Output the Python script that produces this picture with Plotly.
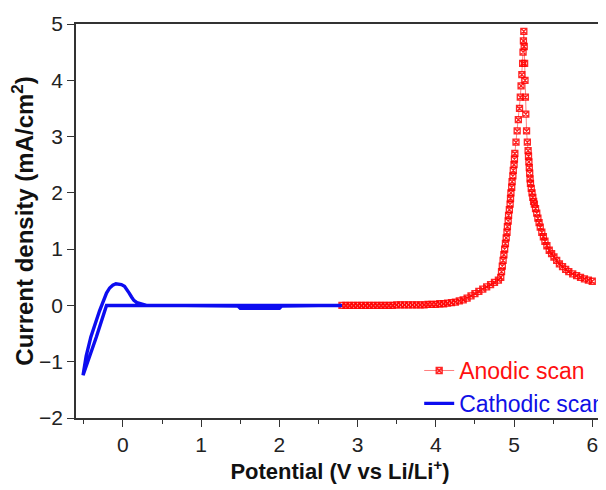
import plotly.graph_objects as go

# Anodic scan (red)
anodic_v = [2.80, 2.85, 2.90, 2.95, 3.00, 3.05, 3.10, 3.15, 3.20, 3.25, 3.30, 3.35, 3.40, 3.45,
            3.50, 3.55, 3.60, 3.65, 3.70, 3.75, 3.80, 3.85, 3.90, 3.95, 4.00, 4.05, 4.10, 4.15,
            4.20, 4.25, 4.30, 4.35, 4.40, 4.45, 4.50, 4.55, 4.60, 4.65, 4.70, 4.75, 4.80,
            4.83, 4.84, 4.85, 4.86, 4.87, 4.88, 4.89, 4.90, 4.91, 4.915, 4.925, 4.93, 4.94, 4.95,
            4.955, 4.96, 4.97, 4.975, 4.985, 4.99, 5.00, 5.005, 5.01,
            5.025, 5.04, 5.055, 5.07, 5.08, 5.09, 5.10, 5.11, 5.115, 5.12, 5.125,
            5.13, 5.135, 5.14, 5.145, 5.15, 5.16, 5.17, 5.18, 5.185, 5.19, 5.195, 5.20, 5.205,
            5.21, 5.22, 5.23, 5.24, 5.25, 5.26, 5.275, 5.29, 5.305, 5.32, 5.335, 5.355, 5.375,
            5.395, 5.42, 5.45, 5.48, 5.51, 5.545, 5.58, 5.62, 5.66, 5.70, 5.75, 5.80, 5.85,
            5.90, 5.95, 6.00]
anodic_i = [0.00, 0.00, 0.00, 0.00, 0.00, 0.00, 0.00, 0.00, 0.00, 0.00, 0.00, 0.00, 0.00, 0.00,
            0.01, 0.01, 0.01, 0.01, 0.01, 0.01, 0.01, 0.01, 0.02, 0.02, 0.02, 0.03, 0.03, 0.04,
            0.05, 0.06, 0.08, 0.10, 0.13, 0.17, 0.21, 0.25, 0.29, 0.33, 0.37, 0.41, 0.45,
            0.50, 0.60, 0.70, 0.80, 0.90, 1.00, 1.10, 1.20, 1.30, 1.40, 1.50, 1.60, 1.70, 1.80,
            1.90, 2.00, 2.10, 2.20, 2.30, 2.40, 2.50, 2.60, 2.70,
            2.90, 3.10, 3.30, 3.50, 3.70, 3.90, 4.10, 4.30, 4.50, 4.70, 4.87,
            4.60, 4.30, 4.00, 3.70, 3.40, 3.10, 2.90, 2.75, 2.65, 2.55, 2.45, 2.35, 2.25,
            2.17, 2.08, 2.00, 1.92, 1.85, 1.80, 1.72, 1.64, 1.55, 1.47, 1.39, 1.30, 1.22,
            1.14, 1.06, 0.98, 0.92, 0.86, 0.80, 0.74, 0.69, 0.64, 0.60, 0.56, 0.53, 0.50,
            0.47, 0.45, 0.43]

# Cathodic scan (blue)
cathodic_v = [2.80, 2.50, 2.00, 1.50, 1.00, 0.50, 0.00, -0.21, -0.34, -0.51,
              -0.47, -0.41, -0.30, -0.25, -0.21, -0.17, -0.13, -0.09, -0.06, -0.02, 0.02,
              0.05, 0.08, 0.11, 0.14, 0.18, 0.22,
              0.30, 0.80, 1.47, 1.50, 2.00, 2.03, 2.50]
cathodic_i = [0.00, 0.00, 0.00, 0.00, 0.00, 0.00, 0.00, 0.00, -0.56, -1.24,
              -0.90, -0.56, -0.10, 0.09, 0.22, 0.31, 0.36, 0.385, 0.385, 0.37, 0.34,
              0.29, 0.22, 0.15, 0.09, 0.05, 0.03,
              0.00, 0.00, -0.01, -0.05, -0.05, -0.01, 0.00]

x_ticks = [0, 1, 2, 3, 4, 5, 6]
y_ticks = [-2, -1, 0, 1, 2, 3, 4, 5]

fig = go.Figure()
fig.add_trace(go.Scatter(
    x=anodic_v, y=anodic_i, mode="lines+markers",
    name='<span style="color:#ff1010">Anodic scan</span>',
    line=dict(color="rgba(255,40,40,0.6)", width=1),
    marker=dict(symbol="square-x-open", size=6, color="rgba(255,0,0,0.85)",
                line=dict(width=1.3, color="rgba(255,0,0,0.85)")),
))
fig.add_trace(go.Scatter(
    x=cathodic_v, y=cathodic_i, mode="lines",
    name='<span style="color:#1010e6">Cathodic scan</span>',
    line=dict(color="#0c0cf0", width=3.4),
))

axis_font = dict(family="Liberation Sans, Arial, sans-serif", size=21, color="#222")
fig.update_layout(
    width=598, height=482,
    margin=dict(l=68, r=2, t=16, b=72, autoexpand=False),
    paper_bgcolor="white", plot_bgcolor="white",
    font=dict(family="Liberation Sans, Arial, sans-serif", size=21, color="#222"),
    showlegend=True,
    legend=dict(x=0.65, y=0.175, xanchor="left", yanchor="top",
                bgcolor="rgba(0,0,0,0)", font=dict(size=23),
                tracegroupgap=0, itemwidth=30),
    xaxis=dict(range=[-0.6, 6.15], tickvals=x_ticks, ticks="outside", ticklen=7,
               tickwidth=1.3, tickcolor="#333", showline=True, linecolor="#333",
               linewidth=1.5, mirror=True, showgrid=False, zeroline=False,
               tickfont=axis_font, automargin=False,
               minor=dict(dtick=0.5, tick0=0, ticks="outside", ticklen=4, tickcolor="#333", showgrid=False),
               title=dict(text="<b>Potential (V vs Li/Li<sup>+</sup>)</b>",
                          font=dict(size=22, color="#111"), standoff=8)),
    yaxis=dict(range=[-2, 5], tickvals=y_ticks, ticks="outside", ticklen=7,
               tickwidth=1.3, tickcolor="#333", showline=True, linecolor="#333",
               linewidth=1.5, mirror=True, showgrid=False, zeroline=False,
               tickfont=axis_font, automargin=False,
               title=dict(text="<b>Current density (mA/cm<sup>2</sup>)</b>",
                          font=dict(size=24, color="#111"), standoff=2)),
)
fig.write_html("out.html")
